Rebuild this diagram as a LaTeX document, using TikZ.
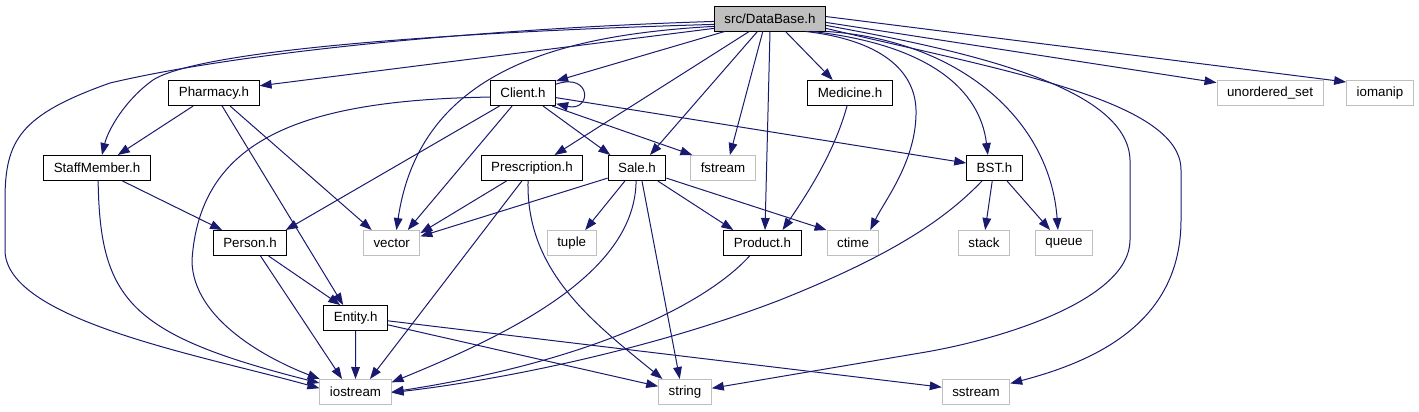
\documentclass[tikz,border=0pt]{standalone}
\usepackage{fontspec}
\setmainfont{Liberation Sans}
\usetikzlibrary{arrows.meta}
\definecolor{edgeblue}{HTML}{191970}
\definecolor{sysgray}{HTML}{BFBFBF}

\begin{document}
\begin{tikzpicture}[
  x=0.75pt, y=-0.75pt,
  font=\fontsize{10pt}{12pt}\selectfont,
  file/.style={draw=black, line width=.75pt, fill=white, inner xsep=7.5pt,
    inner ysep=2pt, minimum height=18.75pt},
  root/.style={file, fill=sysgray},
  syshdr/.style={file, draw=sysgray},
  dep/.style={draw=edgeblue, line width=.75pt, -{Triangle[length=9pt,width=6.5pt]}}
]
\useasboundingbox (0,0) rectangle (1419,411);

% Headers of the project (black) and of the library (grey).
\node[root] (db) at (770,18.5) {src/DataBase.h};
\node[file] (pharmacy) at (214,93) {Pharmacy.h};
\node[file] (client) at (523,93) {Client.h};
\node[file] (medicine) at (850,93) {Medicine.h};
\node[syshdr] (unordset) at (1270,93) {unordered\_set};
\node[syshdr] (iomanip) at (1380,93) {iomanip};
\node[file] (staff) at (97,168) {StaffMember.h};
\node[file] (prescription) at (532,168) {Prescription.h};
\node[file] (sale) at (637,168) {Sale.h};
\node[syshdr] (fstream) at (723,168) {fstream};
\node[file] (bst) at (994.5,168) {BST.h};
\node[file] (person) at (250,243) {Person.h};
\node[syshdr] (vector) at (391.7,243) {vector};
\node[syshdr] (tuple) at (571.7,243) {tuple};
\node[file] (product) at (762.5,243) {Product.h};
\node[syshdr] (ctime) at (853,243) {ctime};
\node[syshdr] (stack) at (984,243) {stack};
\node[syshdr] (queue) at (1064,243) {queue};
\node[file] (entity) at (355.7,318) {Entity.h};
\node[syshdr] (iostream) at (355.5,392) {iostream};
\node[syshdr] (string) at (685,392) {string};
\node[syshdr] (sstream) at (976,392) {sstream};

% Includes of DataBase.h
\draw[dep] (db.183) .. controls (500,28) and (250,50) .. (110,83)
  .. controls (20,115) and (5,140) .. (5,200) -- (5,250)
  .. controls (5,320) and (200,355) .. (iostream.174);
\draw[dep] (db.186) .. controls (450,32) and (200,50) .. (153,80)
  .. controls (125,100) and (108,130) .. (staff.69);
\draw[dep] (db.190) -- (pharmacy.9);
\draw[dep] (db.196) -- (client.20);
\draw[dep] (db.188) .. controls (560,35) and (420,70) .. (vector.70);
\draw[dep] (db.212) -- (prescription.30);
\draw[dep] (db.226) -- (sale.45);
\draw[dep] (db.241) -- (fstream.62);
\draw[dep] (db.south) -- (product.79);
\draw[dep] (db.320) -- (medicine.143);
\draw[dep] (db.340) .. controls (880,40) and (915,70) .. (916,110)
  .. controls (917,160) and (885,200) .. (ctime.37);
\draw[dep] (db.343) .. controls (930,45) and (980,90) .. (bst.117);
\draw[dep] (db.347) .. controls (960,40) and (1050,120) .. (queue.115);
\draw[dep] (db.353) .. controls (960,50) and (1128,85) .. (1130,160) -- (1130,240)
  .. controls (1130,300) and (1000,340) .. (920,353) -- (string.8);
\draw[dep] (db.350) .. controls (1000,70) and (1181,100) .. (1181,170) -- (1181,220)
  .. controls (1181,320) and (1100,360) .. (sstream.14);
\draw[dep] (db.356) -- (unordset.169);
\draw[dep] (db.2) -- (iomanip.162);

% Pharmacy.h and StaffMember.h
\draw[dep] (pharmacy.212) -- (staff.32);
\draw[dep] (pharmacy.321) -- (vector.147);
\draw[dep] (pharmacy.302) -- (entity.134);
\draw[dep] (staff.333) -- (person.155);
\draw[dep] (staff.275) .. controls (100,300) and (130,335) .. (iostream.166);

% Client.h
\draw[dep] (client.15) .. controls (592,72) and (592,112) .. (client.-18);
\draw[dep] (client.187) .. controls (300,100) and (200,140) .. (192,260)
  .. controls (192,320) and (270,360) .. (iostream.160);
\draw[dep] (client.209) -- (person.20);
\draw[dep] (client.230) -- (vector.39);
\draw[dep] (client.327) -- (sale.154);
\draw[dep] (client.-24) -- (fstream.157);
\draw[dep] (client.-8) -- (bst.170);

% Prescription.h and Sale.h
\draw[dep] (prescription.207) -- (vector.19);
\draw[dep] (prescription.232) -- (iostream.42);
\draw[dep] (prescription.253) .. controls (526,270) and (590,320) .. (string.150);
\draw[dep] (sale.199) -- (vector.13);
\draw[dep] (sale.227) -- (tuple.44);
\draw[dep] (sale.266) .. controls (635,270) and (520,330) .. (iostream.15);
\draw[dep] (sale.291) -- (string.112);
\draw[dep] (sale.328) -- (product.156);
\draw[dep] (sale.341) -- (ctime.154);

% Medicine.h, Product.h and BST.h
\draw[dep] (medicine.257) .. controls (835,150) and (810,190) .. (product.33);
\draw[dep] (product.225) .. controls (710,300) and (600,360) .. (iostream.east);
\draw[dep] (bst.226) .. controls (940,225) and (880,260) .. (780,300)
  .. controls (650,350) and (500,380) .. (iostream.-1);
\draw[dep] (bst.260) -- (stack.85);
\draw[dep] (bst.314) -- (queue.137);

% Person.h and Entity.h
\draw[dep] (person.325) -- (entity.140);
\draw[dep] (person.309) -- (iostream.136);
\draw[dep] (entity.south) -- (iostream.north);
\draw[dep] (entity.348) -- (string.168);
\draw[dep] (entity.355) -- (sstream.172);
\end{tikzpicture}
\end{document}
